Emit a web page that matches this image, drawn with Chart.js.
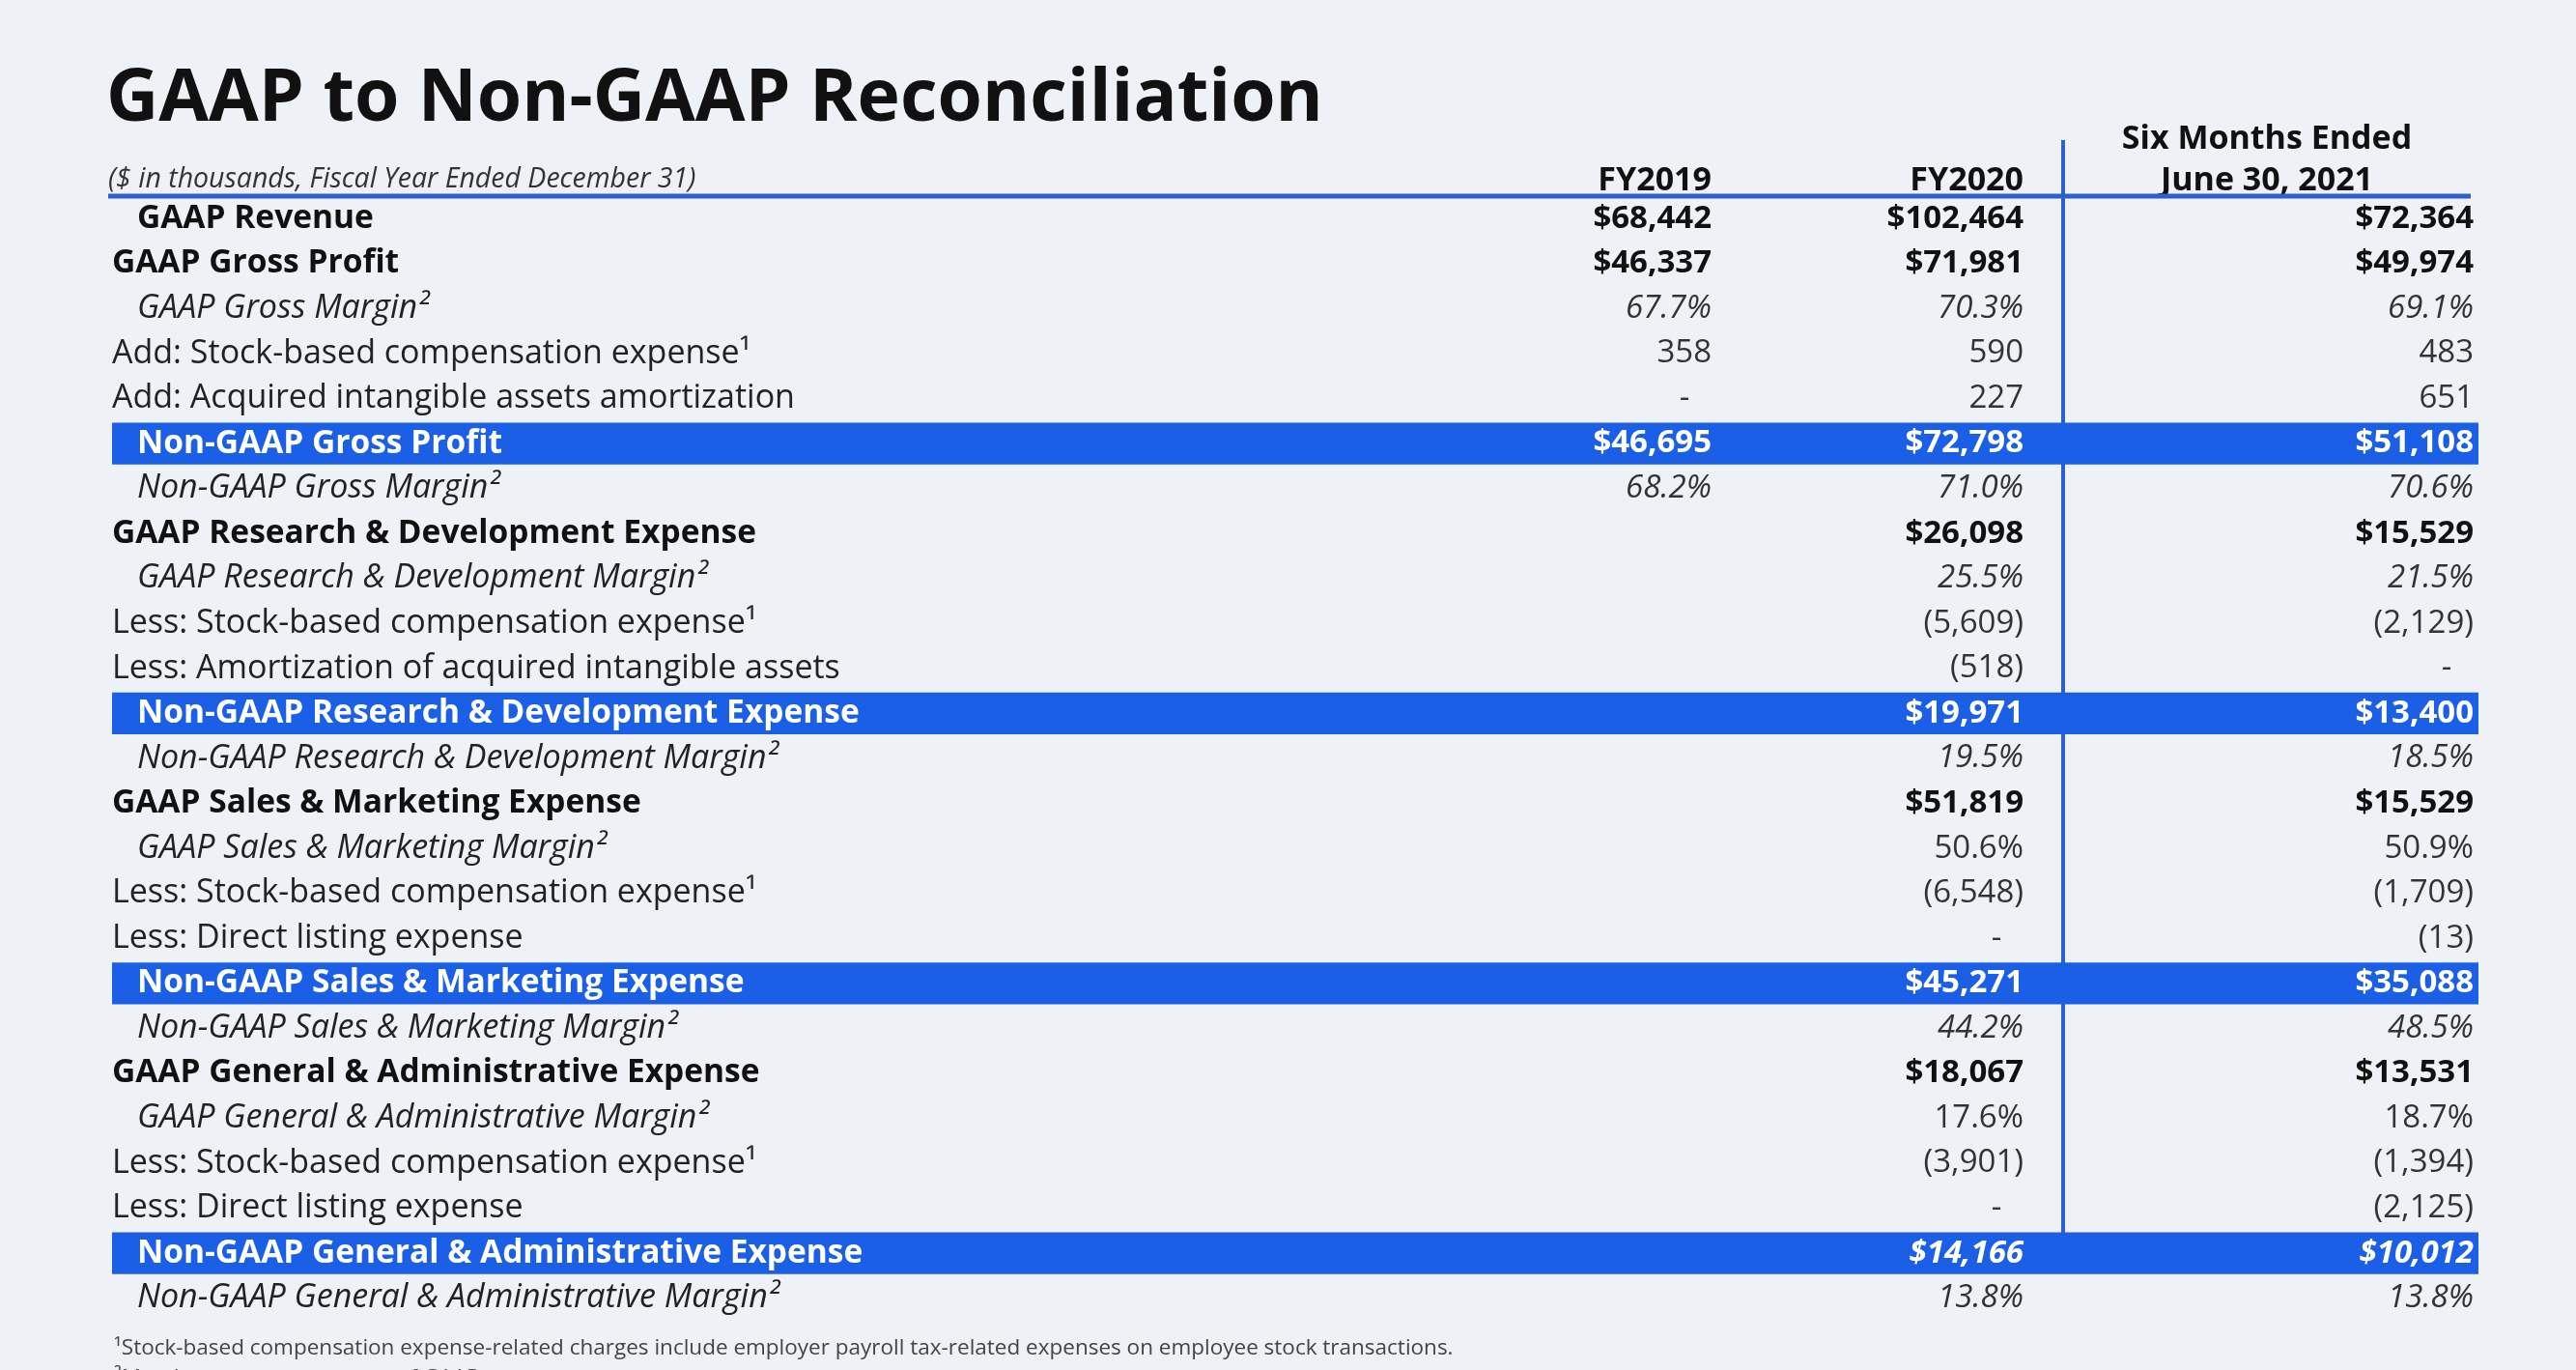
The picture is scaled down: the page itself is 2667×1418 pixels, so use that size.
<!DOCTYPE html>
<html>
<head>
<meta charset="utf-8">
<script src="https://cdn.jsdelivr.net/npm/chart.js@4.4.1/dist/chart.umd.min.js"></script>
<style>
  html, body { margin: 0; padding: 0; background: #eef1f5; }
  #wrap { width: 2667px; height: 1418px; position: relative; overflow: hidden; }
  canvas { display: block; }
</style>
</head>
<body>
<div id="wrap"><canvas id="c" width="2667" height="1418"></canvas></div>
<script>
// ---------- DATA ----------
const title = 'GAAP to Non-GAAP Reconciliation';
const subtitle = '($ in thousands, Fiscal Year Ended December 31)';
const columnHeaders = ['FY2019', 'FY2020', ['Six Months Ended', 'June 30, 2021']];

const rowLabels = [
  'GAAP Revenue',
  'GAAP Gross Profit',
  'GAAP Gross Margin²',
  'Add: Stock-based compensation expense¹',
  'Add: Acquired intangible assets amortization',
  'Non-GAAP Gross Profit',
  'Non-GAAP Gross Margin²',
  'GAAP Research & Development Expense',
  'GAAP Research & Development Margin²',
  'Less: Stock-based compensation expense¹',
  'Less: Amortization of acquired intangible assets',
  'Non-GAAP Research & Development Expense',
  'Non-GAAP Research & Development Margin²',
  'GAAP Sales & Marketing Expense',
  'GAAP Sales & Marketing Margin²',
  'Less: Stock-based compensation expense¹',
  'Less: Direct listing expense',
  'Non-GAAP Sales & Marketing Expense',
  'Non-GAAP Sales & Marketing Margin²',
  'GAAP General & Administrative Expense',
  'GAAP General & Administrative Margin²',
  'Less: Stock-based compensation expense¹',
  'Less: Direct listing expense',
  'Non-GAAP General & Administrative Expense',
  'Non-GAAP General & Administrative Margin²'
];

const fy2019 = [68442, 46337, 67.7, 358, 0, 46695, 68.2,
  null, null, null, null, null, null, null, null, null, null, null, null, null, null, null, null, null, null];
const fy2020 = [102464, 71981, 70.3, 590, 227, 72798, 71.0,
  26098, 25.5, -5609, -518, 19971, 19.5,
  51819, 50.6, -6548, 0, 45271, 44.2,
  18067, 17.6, -3901, 0, 14166, 13.8];
const sixMonths2021 = [72364, 49974, 69.1, 483, 651, 51108, 70.6,
  15529, 21.5, -2129, 0, 13400, 18.5,
  15529, 50.9, -1709, -13, 35088, 48.5,
  13531, 18.7, -1394, -2125, 10012, 13.8];

// rows shown as highlighted subtotal bars
const highlightRows = [5, 11, 17, 23];

const footnotes = [
  '¹Stock-based compensation expense-related charges include employer payroll tax-related expenses on employee stock transactions.',
  '²Margin represents percent of GAAP revenue.'
];

// ---------- FORMAT / STYLE (not data) ----------
// kind: b=bold label+$ value, h=highlight, i=italic margin (%), r=regular adjustment
const rowKind = ['b','b','i','r','r','h','i','b','i','r','r','h','i','b','i','r','r','h','i','b','i','r','r','h','i'];
const rowIndent = [1,0,1,0,0,1,1,0,1,0,0,1,1,0,1,0,0,1,1,0,1,0,0,1,1];
const italicValueRows = [2, 6, 8, 12, 18, 23, 24];

const BLUE = '#1b5fe6';
const LINE_BLUE = '#2d60cc';
const FONT = '"Open Sans", "Noto Sans", sans-serif';

function fmt(v, kind) {
  if (v === null || v === undefined) return '';
  if (kind === 'i') return v.toFixed(1) + '%';
  if (kind === 'b' || kind === 'h') return '$' + v.toLocaleString('en-US');
  if (v === 0) return '-';
  if (v < 0) return '(' + Math.abs(v).toLocaleString('en-US') + ')';
  return v.toLocaleString('en-US');
}

const columns = [fy2019, fy2020, sixMonths2021];

const tablePlugin = {
  id: 'tablePlugin',
  beforeDatasetsDraw(chart) {
    const ctx = chart.ctx;
    const area = chart.chartArea;
    const colRight = [1772, 2095, 2561];
    const sixCenter = 2347;
    ctx.save();
    // title
    ctx.fillStyle = '#111';
    ctx.textBaseline = 'alphabetic';
    ctx.textAlign = 'left';
    ctx.font = 'bold 75px ' + FONT;
    ctx.fillText(title, 110, 125);
    // subtitle
    ctx.font = 'italic 28.5px ' + FONT;
    ctx.fillStyle = '#333';
    ctx.fillText(subtitle, 112, 194);
    // column headers
    ctx.font = 'bold 34px ' + FONT;
    ctx.fillStyle = '#111';
    ctx.textAlign = 'right';
    ctx.fillText(columnHeaders[0], colRight[0], 197);
    ctx.fillText(columnHeaders[1], colRight[1], 197);
    ctx.textAlign = 'center';
    ctx.fillText(columnHeaders[2][0], sixCenter, 154);
    ctx.fillText(columnHeaders[2][1], sixCenter, 197);
    // vertical divider
    ctx.strokeStyle = LINE_BLUE;
    ctx.lineWidth = 4;
    ctx.beginPath();
    ctx.moveTo(2136, 145);
    ctx.lineTo(2136, 1277);
    ctx.stroke();
    // header rule
    ctx.lineWidth = 5;
    ctx.beginPath();
    ctx.moveTo(112, area.top);
    ctx.lineTo(2558, area.top);
    ctx.stroke();
    // footnotes
    ctx.textAlign = 'left';
    ctx.font = '22.5px ' + FONT;
    ctx.fillStyle = '#444';
    ctx.fillText(footnotes[0], 118, 1402);
    ctx.fillText(footnotes[1], 118, 1433);
    ctx.restore();
  },
  afterDatasetsDraw(chart) {
    const ctx = chart.ctx;
    const area = chart.chartArea;
    const yScale = chart.scales.y;
    const colRight = [1772, 2095, 2561];
    ctx.save();
    ctx.textBaseline = 'middle';
    rowLabels.forEach((label, i) => {
      const y = yScale.getPixelForValue(i);
      const kind = rowKind[i];
      const x = area.left + (rowIndent[i] ? 26 : 0);
      let font, color;
      if (kind === 'b') { font = 'bold 33.5px ' + FONT; color = '#111'; }
      else if (kind === 'h') { font = 'bold 33.5px ' + FONT; color = '#ffffff'; }
      else if (kind === 'i') { font = 'italic 34px ' + FONT; color = '#222'; }
      else { font = '34px ' + FONT; color = '#222'; }
      ctx.font = font;
      ctx.fillStyle = color;
      ctx.textAlign = 'left';
      ctx.fillText(label, x, y);
      // values
      columns.forEach((col, c) => {
        const txt = fmt(col[i], kind);
        if (!txt) return;
        let vf;
        const ital = italicValueRows.includes(i) ? 'italic ' : '';
        if (kind === 'b' || kind === 'h') vf = ital + 'bold 33px ' + FONT;
        else vf = ital + '33px ' + FONT;
        ctx.font = vf;
        ctx.fillStyle = kind === 'h' ? '#ffffff' : (kind === 'b' ? '#111' : '#333');
        if (txt === '-') {
          ctx.textAlign = 'center';
          ctx.fillText(txt, colRight[c] - 28, y);
        } else {
          ctx.textAlign = 'right';
          ctx.fillText(txt, colRight[c], y);
        }
      });
    });
    ctx.restore();
  }
};

new Chart(document.getElementById('c'), {
  type: 'bar',
  data: {
    labels: rowLabels,
    datasets: [{
      label: 'Non-GAAP subtotals',
      data: rowLabels.map((_, i) => highlightRows.includes(i) ? [0, 1] : null),
      backgroundColor: BLUE,
      borderWidth: 0,
      borderSkipped: false,
      barPercentage: 0.93,
      categoryPercentage: 1.0
    }]
  },
  options: {
    indexAxis: 'y',
    responsive: false,
    devicePixelRatio: 1,
    animation: false,
    layout: { padding: { left: 116, right: 101, top: 203, bottom: 51 } },
    plugins: { legend: { display: false }, tooltip: { enabled: false }, title: { display: false } },
    scales: {
      x: { type: 'linear', min: 0, max: 1, display: false },
      y: { type: 'category', display: false, offset: true }
    }
  },
  plugins: [tablePlugin]
});
</script>
</body>
</html>
